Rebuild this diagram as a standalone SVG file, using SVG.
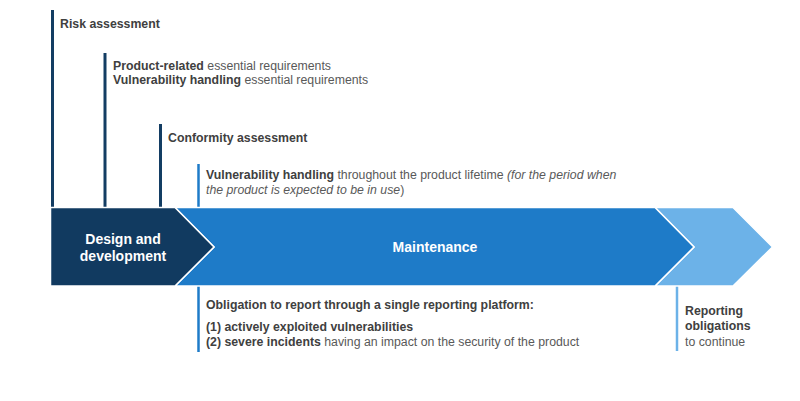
<svg xmlns="http://www.w3.org/2000/svg" width="800" height="401" viewBox="0 0 800 401">
<style>
text{font-family:"Liberation Sans",Arial,sans-serif;fill:#595959;font-size:12.3px}
.b{font-weight:bold;fill:#404040}
.i{font-style:italic}
.w{fill:#ffffff;font-weight:bold;font-size:14px}
.dk{stroke:#133d63;stroke-width:3}
.md{stroke:#1e7bc8;stroke-width:2.5}
.lt{stroke:#6cb2e8;stroke-width:2.5}
.shape{stroke:#ffffff;stroke-width:1.5;stroke-linejoin:miter}
</style>
<rect width="800" height="401" fill="#ffffff"/>
<g id="connectors">
<line class="dk" x1="52.5" y1="10" x2="52.5" y2="208"/>
<line class="dk" x1="105" y1="53" x2="105" y2="208"/>
<line class="dk" x1="160.5" y1="124" x2="160.5" y2="208"/>
<line class="md" x1="198.5" y1="164" x2="198.5" y2="208"/>
<line class="md" x1="198.5" y1="286" x2="198.5" y2="352"/>
<line class="lt" x1="677" y1="286" x2="677" y2="351"/>
</g>
<g id="phase-continue">
<polygon class="shape" fill="#6cb2e8" points="655,207.5 733,207.5 772.5,247 733,286 655,286 694,247"/>
</g>
<g id="phase-maintenance">
<polygon class="shape" fill="#1e7bc8" points="175,207.5 655,207.5 694,247 655,286 175,286 214,247"/>
<text class="w" x="435" y="252" text-anchor="middle">Maintenance</text>
</g>
<g id="phase-design">
<polygon class="shape" fill="#113a60" points="50.5,207.5 175,207.5 214,247 175,286 50.5,286"/>
<text class="w" x="123" y="244" text-anchor="middle">Design and</text>
<text class="w" x="123" y="261" text-anchor="middle">development</text>
</g>
<g id="risk-assessment">
<text class="b" x="60" y="28">Risk assessment</text>
</g>
<g id="essential-requirements">
<text x="113" y="69.5"><tspan class="b">Product-related</tspan> essential requirements</text>
<text x="113" y="84"><tspan class="b">Vulnerability handling</tspan> essential requirements</text>
</g>
<g id="conformity-assessment">
<text class="b" x="168" y="141.5">Conformity assessment</text>
</g>
<g id="vulnerability-handling">
<text x="206" y="179"><tspan class="b">Vulnerability handling</tspan> throughout the product lifetime <tspan class="i">(for the period when</tspan></text>
<text x="206" y="194"><tspan class="i">the product is expected to be in use</tspan>)</text>
</g>
<g id="reporting-platform">
<text class="b" x="206" y="309">Obligation to report through a single reporting platform:</text>
<text class="b" x="206" y="330.5">(1) actively exploited vulnerabilities</text>
<text x="206" y="345.5"><tspan class="b">(2) severe incidents</tspan> having an impact on the security of the product</text>
</g>
<g id="reporting-continue">
<text class="b" x="685" y="315">Reporting</text>
<text class="b" x="685" y="330">obligations</text>
<text x="685" y="345.5">to continue</text>
</g>
</svg>
